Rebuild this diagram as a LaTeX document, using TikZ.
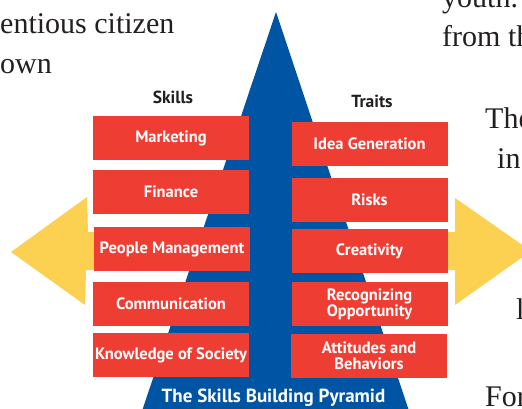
\documentclass[tikz,border=0pt]{standalone}
\usepackage{fontspec}
\setmainfont{Liberation Serif}
\setsansfont{PT Sans}
\definecolor{pyrblue}{RGB}{0,84,164}
\definecolor{boxred}{RGB}{238,62,52}
\definecolor{arrowyellow}{RGB}{252,208,80}
\definecolor{inkgray}{RGB}{35,31,32}
\begin{document}
\begin{tikzpicture}[x=1pt,y=-1pt,
		skillbox/.style={fill=boxred, text=white, minimum width=156pt, minimum height=44pt,
			inner sep=0pt, align=center, font=\sffamily\bfseries\fontsize{16.5}{16}\selectfont},
		colhead/.style={text=inkgray, inner sep=0pt, font=\sffamily\bfseries\fontsize{17.5}{18}\selectfont},
		pagetext/.style={text=inkgray, inner sep=0pt, anchor=base west, font=\fontsize{30}{40}\selectfont}]
		\useasboundingbox (0,0) rectangle (522,408);
		\clip (0,0) rectangle (522,408);
		
		% text of the page round the picture
		\node[pagetext] (t1) at (0,33)   {entious citizen};
		\node[pagetext] (t2) at (0,73)   {own};
		\node[pagetext] (t3) at (442,7)  {youth.};
		\node[pagetext] (t4) at (442,46) {from th};
		\node[pagetext] (t5) at (485,128) {The};
		\node[pagetext] (t6) at (497,168) {in};
		\node[pagetext] (t7) at (516,319) {l};
		\node[pagetext] (t8) at (485,406) {For};
		
		\fill[arrowyellow] (11,252) -- (87,197) -- (88,232) -- (140,232) -- (140,270)
			-- (86,270) -- (85,305) -- cycle;
		\fill[arrowyellow] (531,251) -- (455,198) -- (455,232) -- (400,232) -- (400,270)
			-- (455,270) -- (455,305) -- cycle;
		
		\fill[pyrblue] (276,12) -- (412,420) -- (139,420) -- cycle;
		
		\node[colhead] (skills) at (173,97)  {Skills};
		\node[colhead] (traits) at (372,101) {Traits};
		
		\node[skillbox] (marketing) at (171,138)   {Marketing};
		\node[skillbox] (finance)   at (171,192)   {Finance};
		\node[skillbox] (people)    at (172,249)   {People Management};
		\node[skillbox] (comm)      at (171,304)   {Communication};
		\node[skillbox] (society)   at (171,355)   {Knowledge of Society};
		
		\node[skillbox] (ideas)     at (369.5,144) {Idea Generation};
		\node[skillbox] (risks)     at (369.5,200) {Risks};
		\node[skillbox] (creative)  at (369.5,251) {Creativity};
		\node[skillbox] (recog)     at (369.5,304) {Recognizing\\Opportunity};
		\node[skillbox] (attitudes) at (369,356)   {Attitudes and\\Behaviors};
		
		\node[colhead, text=white, font=\sffamily\bfseries\fontsize{19}{20}\selectfont] (title) at (273.5,398) {The Skills Building Pyramid};
		\end{tikzpicture}
\end{document}
